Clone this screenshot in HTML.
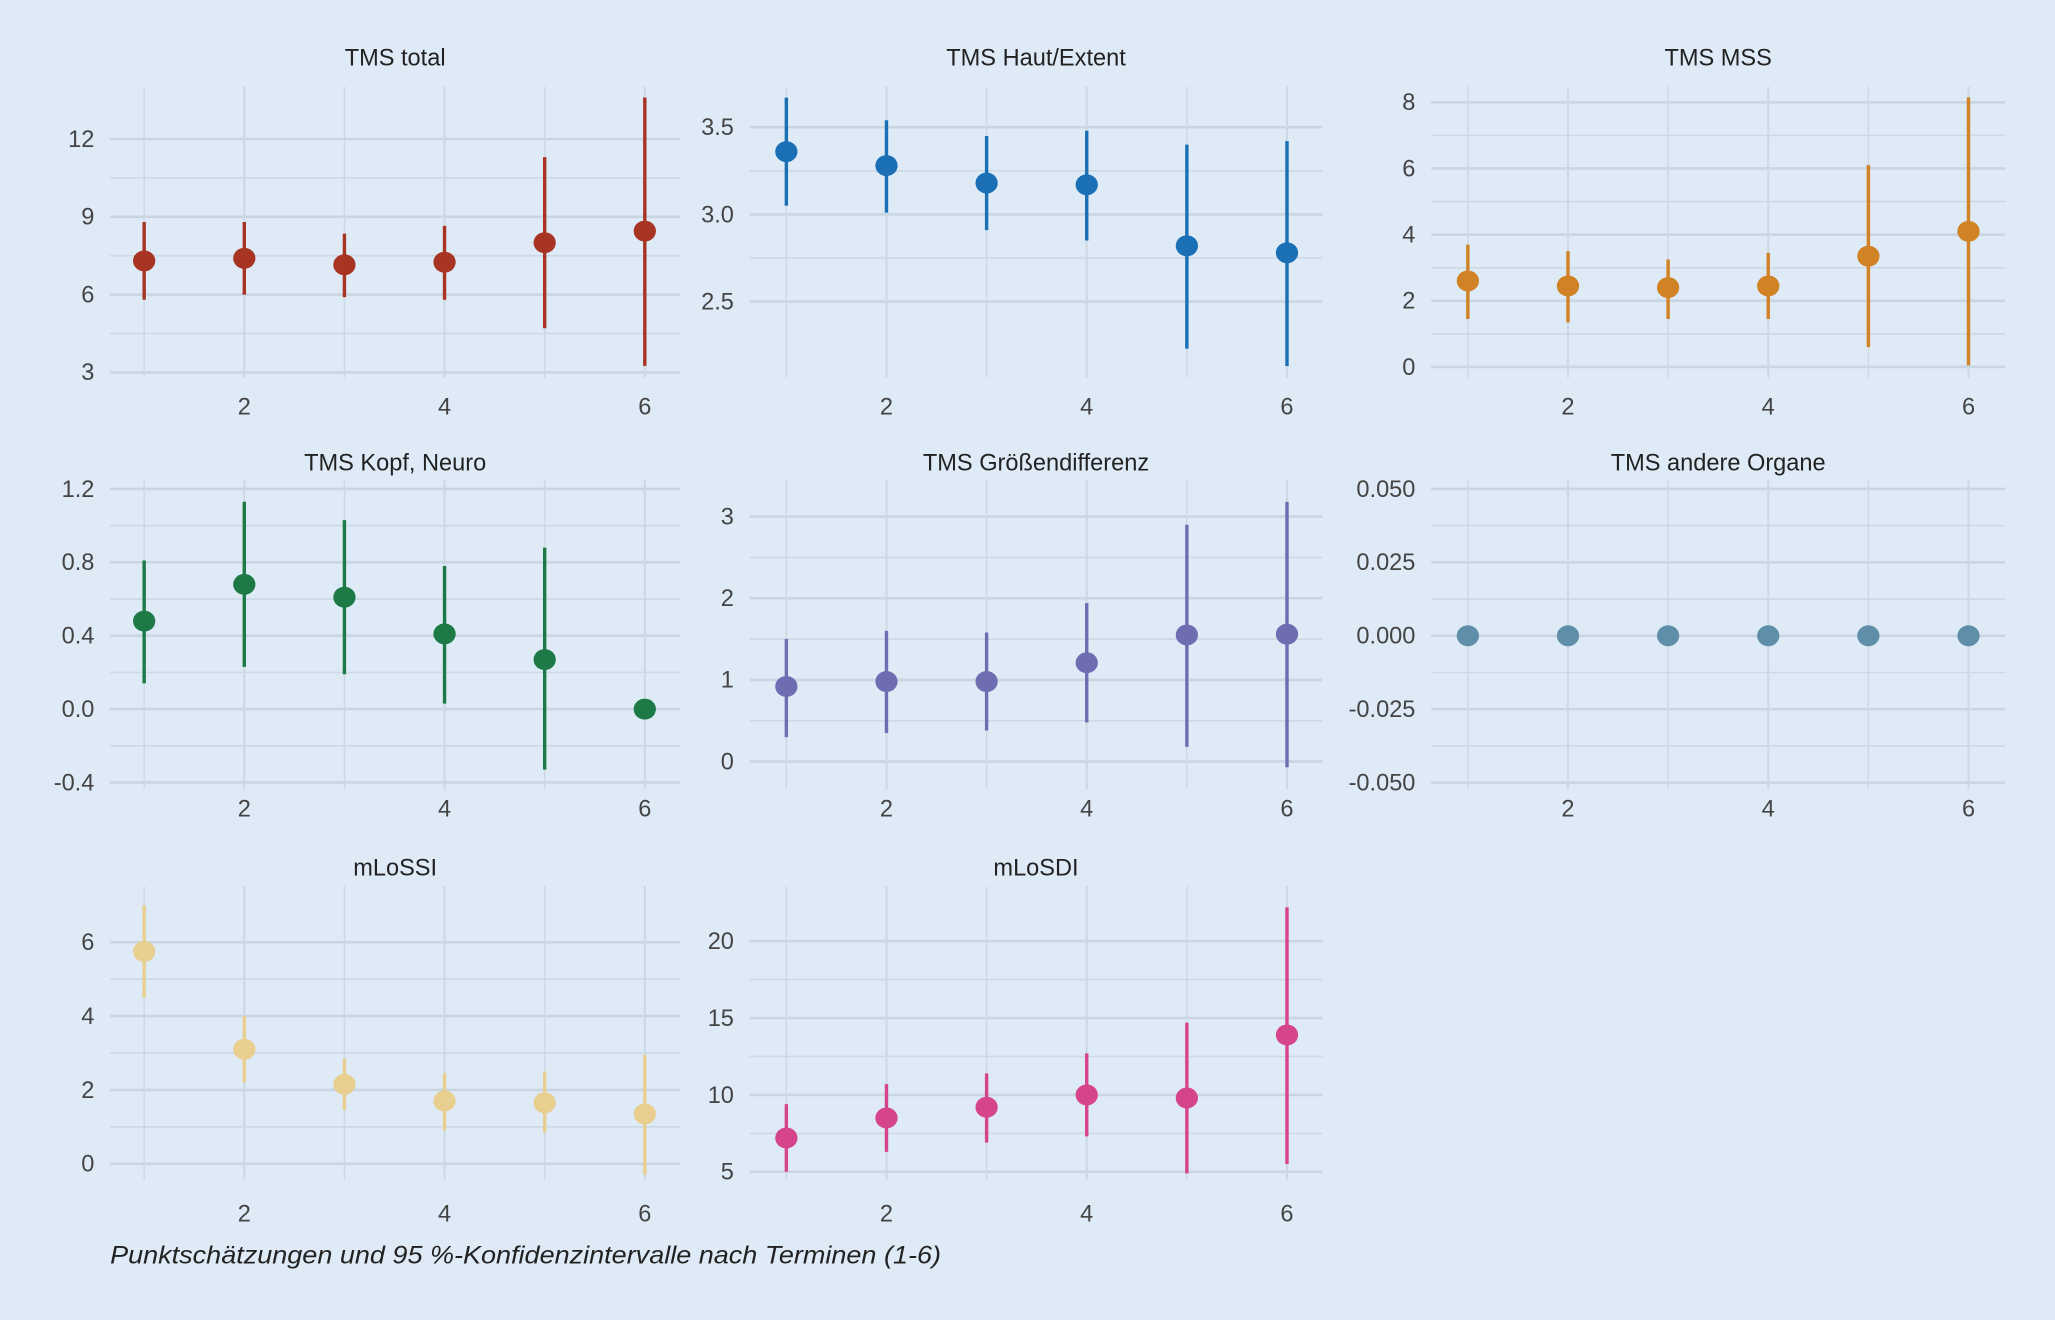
<!DOCTYPE html>
<html><head><meta charset="utf-8"><style>
html,body{margin:0;padding:0;background:#deebf7;}
svg{display:block;font-family:"Liberation Sans",sans-serif;}
</style></head><body>
<svg id="chart" width="2055" height="1320" viewBox="0 0 1568 1007" xmlns="http://www.w3.org/2000/svg">
<rect x="0" y="0" width="1568" height="1007" fill="#deebf7"/>
<text x="84" y="964" font-size="19" font-style="italic" fill="#222" textLength="634" lengthAdjust="spacingAndGlyphs">Punktschätzungen und 95 %-Konfidenzintervalle nach Terminen (1-6)</text>
</svg>
<script>
const xCats = [1,2,3,4,5,6];
const xTicks = [2,4,6];

const titles = ["TMS total","TMS Haut/Extent","TMS MSS","TMS Kopf, Neuro","TMS Größendifferenz","TMS andere Organe","mLoSSI","mLoSDI"];

const est_total = [7.3,7.4,7.15,7.25,8.0,8.45];
const lo_total  = [5.8,6.0,5.9,5.8,4.7,3.25];
const hi_total  = [8.8,8.8,8.35,8.65,11.3,13.6];
const ticks_total = [3,6,9,12];

const est_haut = [3.36,3.28,3.18,3.17,2.82,2.78];
const lo_haut  = [3.05,3.01,2.91,2.85,2.23,2.13];
const hi_haut  = [3.67,3.54,3.45,3.48,3.40,3.42];
const ticks_haut = [2.5,3.0,3.5];

const est_mss = [2.6,2.45,2.4,2.45,3.35,4.1];
const lo_mss  = [1.45,1.35,1.45,1.45,0.6,0.05];
const hi_mss  = [3.7,3.5,3.25,3.45,6.1,8.15];
const ticks_mss = [0,2,4,6,8];

const est_kopf = [0.48,0.68,0.61,0.41,0.27,0.0];
const lo_kopf  = [0.14,0.23,0.19,0.03,-0.33,0.0];
const hi_kopf  = [0.81,1.13,1.03,0.78,0.88,0.0];
const ticks_kopf = [-0.4,0.0,0.4,0.8,1.2];

const est_gd = [0.92,0.98,0.98,1.21,1.55,1.56];
const lo_gd  = [0.30,0.35,0.38,0.48,0.18,-0.07];
const hi_gd  = [1.50,1.60,1.58,1.94,2.90,3.18];
const ticks_gd = [0,1,2,3];

const est_org = [0,0,0,0,0,0];
const lo_org  = [0,0,0,0,0,0];
const hi_org  = [0,0,0,0,0,0];
const ticks_org = [-0.05,-0.025,0,0.025,0.05];

const est_ssi = [5.75,3.1,2.15,1.7,1.65,1.35];
const lo_ssi  = [4.5,2.2,1.45,0.9,0.85,-0.3];
const hi_ssi  = [7.0,4.0,2.85,2.45,2.5,2.95];
const ticks_ssi = [0,2,4,6];

const est_sdi = [7.2,8.5,9.2,10.0,9.8,13.9];
const lo_sdi  = [5.0,6.3,6.9,7.3,4.9,5.5];
const hi_sdi  = [9.4,10.7,11.4,12.7,14.7,22.2];
const ticks_sdi = [5,10,15,20];

const NS = "http://www.w3.org/2000/svg";
const svg = document.getElementById("chart");
function mk(tag, attrs, parent){
  const e = document.createElementNS(NS, tag);
  for (const k in attrs) e.setAttribute(k, attrs[k]);
  (parent||svg).appendChild(e);
  return e;
}
const colX = [[84,519,110,492],[572,1009,600,982],[1092,1530,1120,1502]];
const rowY = [[66,288,310,50],[366,602,617,359],[676,900,926,668]];

const panels = [
 {col:0,row:0,est:est_total,lo:lo_total,hi:hi_total,ticks:ticks_total,dom:[2.8,14.02],color:"#a83424",dec:0},
 {col:1,row:0,est:est_haut,lo:lo_haut,hi:hi_haut,ticks:ticks_haut,dom:[2.064,3.733],color:"#1a6fb5",dec:1},
 {col:2,row:0,est:est_mss,lo:lo_mss,hi:hi_mss,ticks:ticks_mss,dom:[-0.32,8.475],color:"#d08224",dec:0},
 {col:0,row:1,est:est_kopf,lo:lo_kopf,hi:hi_kopf,ticks:ticks_kopf,dom:[-0.436,1.25],color:"#1d7a46",dec:1},
 {col:1,row:1,est:est_gd,lo:lo_gd,hi:hi_gd,ticks:ticks_gd,dom:[-0.337,3.45],color:"#6f6db2",dec:0},
 {col:2,row:1,est:est_org,lo:lo_org,hi:hi_org,ticks:ticks_org,dom:[-0.0522,0.0531],color:"#5f8ea8",dec:3},
 {col:0,row:2,est:est_ssi,lo:lo_ssi,hi:hi_ssi,ticks:ticks_ssi,dom:[-0.43,7.52],color:"#e8cf90",dec:0},
 {col:1,row:2,est:est_sdi,lo:lo_sdi,hi:hi_sdi,ticks:ticks_sdi,dom:[4.49,23.58],color:"#d6448c",dec:0}
];

panels.forEach((p,i)=>{
  const [x0,x1,c1,c6] = colX[p.col];
  const [top,bot,lab,tty] = rowY[p.row];
  const g = mk("g",{});
  
  
  const xs = v => c1 + (v-1)*(c6-c1)/5;
  const ys = v => bot - (v-p.dom[0])*(bot-top)/(p.dom[1]-p.dom[0]);
  const t = mk("text",{x:(x0+x1)/2,y:tty,"font-size":18,"text-anchor":"middle",fill:"#222"},g);
  t.textContent = titles[i];
  
  
  for (let k=0;k<p.ticks.length-1;k++){
    const mv=(p.ticks[k]+p.ticks[k+1])/2;
    const l=mk("line",{x1:x0,x2:x1,y1:ys(mv),y2:ys(mv),stroke:"#ccd8e4","stroke-width":1.2},g);
    
    
  }
  p.ticks.forEach(v=>{
    const y=ys(v);
    const l=mk("line",{x1:x0,x2:x1,y1:y,y2:y,stroke:"#c9d5e1","stroke-width":2},g);
    
    
    const tx=mk("text",{x:x0-12,y:y+6,"font-size":18,"text-anchor":"end",fill:"#444"},g);
    tx.textContent=v.toFixed(p.dec);
    
    
  });
  xCats.forEach(c=>{
    const l=mk("line",{x1:xs(c),x2:xs(c),y1:top,y2:bot,stroke:"#ccd8e4","stroke-width":c%2==0?1.6:1.1},g);
    
    
  });
  xTicks.forEach(c=>{
    const tx=mk("text",{x:xs(c),y:lab+6,"font-size":18,"text-anchor":"middle",fill:"#444"},g);
    tx.textContent=c;
    
    
  });
  xCats.forEach((c,j)=>{
    const l=mk("line",{x1:xs(c),x2:xs(c),y1:ys(p.lo[j]),y2:ys(p.hi[j]),stroke:p.color,"stroke-width":2.6},g);
    
    
    const d=mk("ellipse",{cx:xs(c),cy:ys(p.est[j]),rx:8.5,ry:8,fill:p.color},g);
    
    
  });
});
</script>
</body></html>
